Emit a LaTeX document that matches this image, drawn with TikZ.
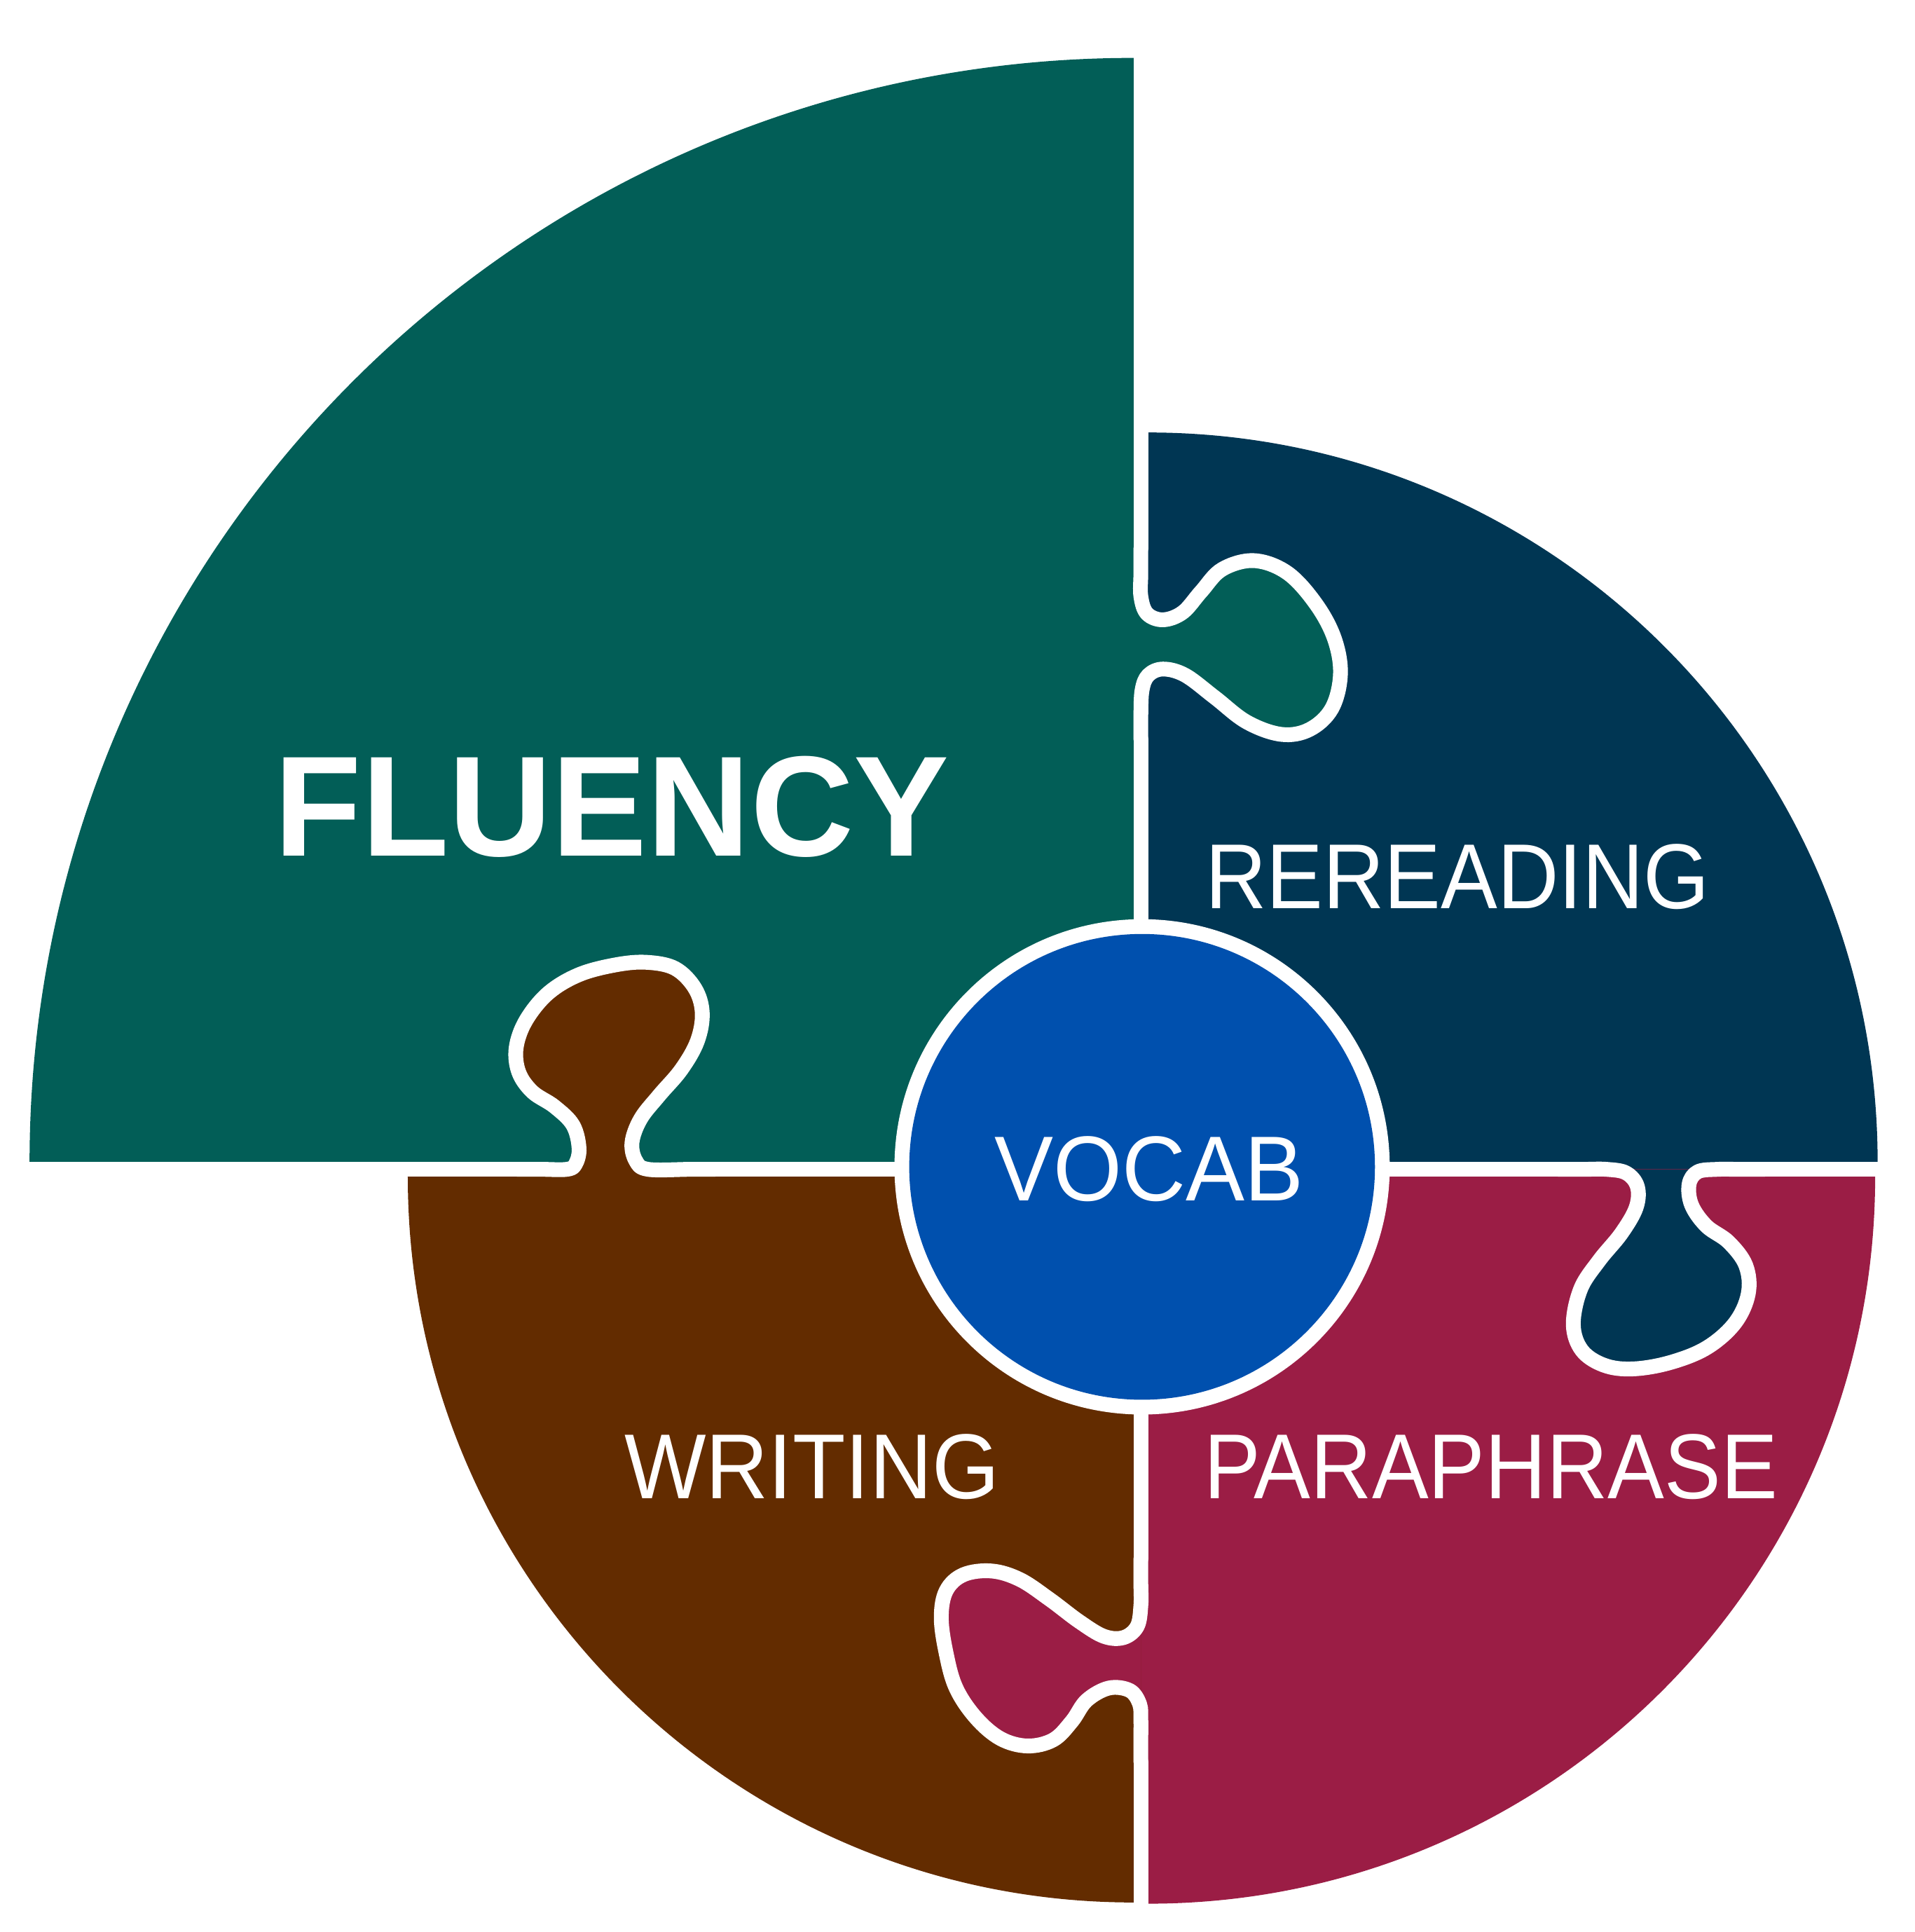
\documentclass[tikz,border=0pt]{standalone}
\usepackage{fontspec}
\setmainfont{Liberation Sans}
\usepackage{xcolor}
\definecolor{fluencygreen}{HTML}{025E57}
\definecolor{rereadingblue}{HTML}{003653}
\definecolor{paraphrasered}{HTML}{9B1D45}
\definecolor{writingbrown}{HTML}{632C00}
\definecolor{vocabblue}{HTML}{0050AE}

\begin{document}
\begin{tikzpicture}[x=0.1mm,y=-0.1mm,
        seam/.style={draw=white,line width=1.2mm,line cap=round,line join=round},
        word/.style={text=white,inner sep=0pt,xscale=0.92,font=\fontsize{21.3}{24}\selectfont}]
        \useasboundingbox (0,0) rectangle (1554,1568);
        \begin{scope}
            \clip (0,0) rectangle (926,949);
            \fill[fluencygreen] (920,943) circle (896);
        \end{scope}
        \begin{scope}
            \clip (926,0) rectangle (1554,949);
            \fill[rereadingblue] (932,943) circle (592);
        \end{scope}
        \begin{scope}
            \clip (926,949) rectangle (1554,1568);
            \fill[paraphrasered] (932,955) circle (590);
        \end{scope}
        \begin{scope}
            \clip (0,949) rectangle (926,1568);
            \fill[writingbrown] (920,955) circle (589);
        \end{scope}
        \path[fill=fluencygreen,seam] plot[smooth,tension=0.6] coordinates {(926,445) (926,465) (926,484) (931,498) (944,503) (960,497) (975,480) (992,462) (1018,455) (1045,465) (1068,490) (1083,518) (1088,547) (1081,575) (1063,592) (1040,596) (1012,586) (986,566) (962,548) (944,543) (932,548) (927,560) (926,580) (926,600)};
        \path[fill=rereadingblue,seam] plot[smooth,tension=0.6] coordinates {(1265,949) (1285,949) (1304,949) (1320,952) (1329,963) (1328,980) (1316,1001) (1298,1023) (1283,1046) (1277,1075) (1284,1096) (1302,1108) (1325,1111) (1355,1106) (1385,1094) (1408,1074) (1419,1050) (1417,1027) (1403,1008) (1385,995) (1373,978) (1371,961) (1378,951) (1394,949) (1412,949) (1432,949)};
        \path[fill=paraphrasered,seam] plot[smooth,tension=0.6] coordinates {(926,1265) (926,1285) (926,1303) (923,1320) (912,1329) (896,1328) (876,1316) (852,1298) (828,1282) (805,1275) (782,1278) (768,1291) (764,1313) (768,1342) (776,1370) (792,1394) (812,1411) (834,1417) (855,1412) (870,1397) (882,1380) (900,1370) (917,1372) (925,1383) (926,1396) (926,1410) (926,1430)};
        \path[fill=writingbrown,seam] plot[smooth,tension=0.6] coordinates {(420,949) (440,949) (460,949) (467,945) (470,932) (465,913) (450,898) (432,886) (421,870) (419,850) (427,828) (445,806) (470,791) (500,783) (525,781) (548,786) (564,802) (570,822) (566,845) (553,868) (535,889) (520,908) (513,927) (516,942) (526,949) (560,949) (580,949)};
        \draw[seam] (926,0) -- (926,445) (926,600) -- (926,1265) (926,1430) -- (926,1568);
        \draw[seam] (0,949) -- (420,949) (580,949) -- (1265,949) (1432,949) -- (1554,949);
        \fill[white] (927,947) circle (201);
        \fill[vocabblue] (927,947) circle (189);
        \node[text=white,inner sep=0pt,font=\bfseries\fontsize{33}{36}\selectfont] (fluency) at (496.5,654.5) {FLUENCY};
        \node[word] (rereading) at (1183,711.5) {REREADING};
        \node[word,xscale=1.04] (vocab) at (932.5,948.5) {VOCAB};
        \node[word,xscale=1.02] (writing) at (659,1190.5) {WRITING};
        \node[word] (paraphrase) at (1210,1190.5) {PARAPHRASE};
\end{tikzpicture}
\end{document}
